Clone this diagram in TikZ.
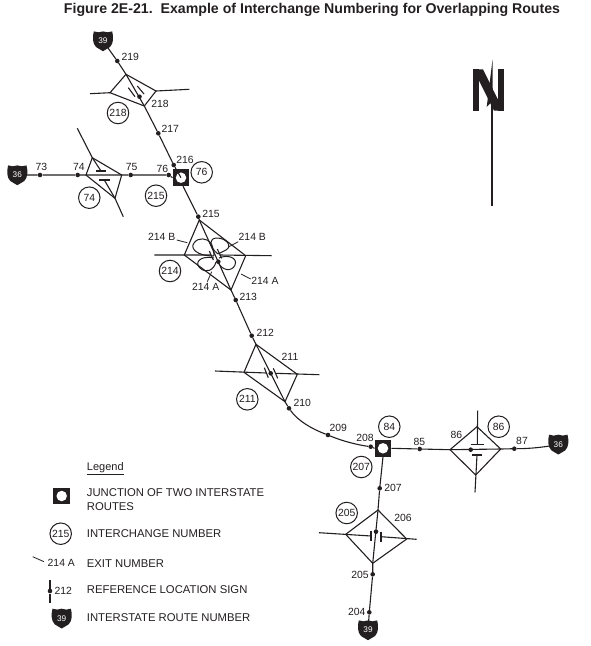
\documentclass[tikz,border=0pt]{standalone}
\usepackage{fontspec}
\setmainfont{Liberation Sans}
\definecolor{ink}{HTML}{231F20}
\tikzset{
  road/.style={draw=ink,line width=1.1pt,line join=miter},
  dotn/.style={circle,fill=ink,inner sep=0pt,minimum size=4.6pt},
  lbl/.style={inner sep=0pt,text=ink,font=\fontsize{10.4}{12}\selectfont},
  legt/.style={inner sep=0pt,text=ink,anchor=west,font=\fontsize{11.3}{14}\selectfont},
  numc/.style={circle,draw=ink,line width=1pt,fill=white,minimum size=21.5pt,inner sep=0pt,text=ink,font=\fontsize{10.4}{12}\selectfont},
  junc/.style={rectangle,fill=ink,minimum size=16.6pt,inner sep=0pt},
  junh/.style={circle,fill=white,minimum size=10.5pt,inner sep=0pt},
  shtxt/.style={inner sep=0pt,text=white,font=\fontsize{8.2}{10}\selectfont},
  thin road/.style={draw=ink,line width=0.8pt},
}
\newcommand{\shieldmark}[3]{%
  \fill[ink,shift={(#1)}] (-9.2,-9.6) .. controls (-6,-8.4) and (-3,-8.4) .. (0,-9.6)
    .. controls (3,-8.4) and (6,-8.4) .. (9.2,-9.6)
    .. controls (10.6,-4) and (10.6,2.5) .. (7,6)
    .. controls (4.5,8) and (2,8.6) .. (0,10.2)
    .. controls (-2,8.6) and (-4.5,8) .. (-7,6)
    .. controls (-10.6,2.5) and (-10.6,-4) .. (-9.2,-9.6) -- cycle;
  \node[shtxt] (#2) at (#1) {#3};}
\begin{document}
\begin{tikzpicture}[x=1pt,y=-1pt]
\useasboundingbox (0,0) rectangle (590,646);
\node[inner sep=0pt,text=ink,font=\bfseries\fontsize{14.15}{16}\selectfont] (title) at (312,9.5) {Figure 2E-21.\ \ Example of Interchange Numbering for Overlapping Routes};

% coordinates ------------------------------------------------
\foreach \n/\p in {
 t218/{126,74.3},r218/{156,91},b218/{144.3,106},l218/{110,92.7},wr218/{90,93.7},er218/{189.3,89.3},
 t74/{92.3,157.7},r74/{121.7,175},b74/{115,198.3},l74/{86,175},nr74/{77.3,128.3},sr74/{123.3,216.7},s74a/{101,171},s74b/{104.3,180},
 t214/{199.3,220},r214/{245.7,255.7},b214/{231,290},l214/{184.3,255},wr214/{154.3,255},er214/{271.7,255.7},s214a/{211,255},s214b/{219.5,255},
 t211/{256,344.3},r211/{297.3,374.3},b211/{285,401.7},l211/{244,372.3},wr211/{215,371},er211/{319.3,374.7},s211a/{266.3,373},s211b/{275.5,373.3},
 t86/{477,426.7},r86/{500.7,449},b86/{475.7,475},l86/{450,449.7},nr86/{477.7,410.7},sr86/{475,492.3},s86a/{477.3,444.7},s86b/{477,455},
 t206/{378,510},r206/{406.7,539},b206/{372.7,563.3},l206/{345.7,534.3},wr206/{319,532.7},er206/{416.7,539.3},s206a/{371,536},s206b/{381,536.7}}
 {\coordinate (\n) at (\p);}

% dots --------------------------------------------------------
\foreach \n/\p in {d219/{117.3,61},d218/{139.5,96.7},d217/{158.3,133.3},d216/{173.7,165},
 d73/{40,175},d74/{77.7,175},d75/{130.7,175},d76/{168.7,175},d215/{198.3,216.7},d214/{218.3,261.7},
 d213/{235.7,300},d212/{251.7,335.7},d211/{270.7,373.3},d210/{289,408.3},d209/{328,435},d208/{370.7,446.7},
 d85/{419.7,449},d86/{470.7,449.7},d87/{514.3,448.7},d207/{379.7,488.3},d206/{376,531.7},d205/{372.7,574.3},d204/{369.3,612.3},dleg/{50,591}}
 {\node[dotn] (\n) at (\p) {};}

% shields and junctions ---------------------------------------
\shieldmark{103,41}{s39n}{39}
\shieldmark{17.3,175}{s36w}{36}
\shieldmark{558.3,444.3}{s36e}{36}
\shieldmark{368,630}{s39s}{39}
\shieldmark{61.7,618.3}{s39l}{39}
\node[junc] (j1) at (181,177.7) {};
\node[junh] at (j1) {};
\node[junc] (j2) at (383,448.3) {};
\node[junh] at (j2) {};
\node[junc] (j3) at (61.7,496) {};
\node[junh] at (j3) {};

% routes ------------------------------------------------------
\begin{scope}[on background layer/.style={}]
\draw[road] (s39n) -- (d219) -- (t218) -- (b218) -- (d217) -- (d216) -- (j1.center);
\draw[road] (j1.south) ++(2,0) -- (d215) -- (t214) -- (b214) -- (d213) -- (d212) -- (t211) -- (b211) -- (d210);
\draw[road] (d210) .. controls (298,421) and (312,429) .. (d209) .. controls (342,441) and (358,445) .. (d208) -- (j2.west);
\draw[road] (s36w) -- (d73) -- (d74) -- (d75) -- (d76) -- (j1.west);
\draw[road] (j2.east) -- (d85) -- (l86) -- (r86) -- (d87) .. controls (530,448.7) and (545,447) .. (s36e);
\draw[road] (j2.south) -- (d207) -- (t206) -- (b206) -- (d205) -- (d204) -- (s39s);
\end{scope}

% interchange 218
\draw[road] (t218) -- (r218) -- (b218) -- (l218) -- cycle;
\draw[road] (wr218) -- (l218) (r218) -- (er218);
\draw[road] (128.3,87.7) -- (135,96.7) (137.3,86) -- (144,94);
% interchange 74
\draw[road] (l74) -- (t74) -- (r74) -- (b74) -- cycle;
\draw[road] (nr74) -- (t74) -- (s74a) (s74b) -- (b74) -- (sr74);
\draw[road] (96,171) -- (106,171) (99.3,180) -- (110,180);
% interchange 214
\draw[road] (t214) -- (r214) -- (b214) -- (l214) -- cycle;
\draw[road] (wr214) -- (s214a) (s214b) -- (er214);
\draw[road] (209.3,251) -- (213.3,260) (217.3,249) -- (221.7,258.3);
\draw[road,line width=1pt] (214,256) .. controls (196,256) and (190,248) .. (194,243) .. controls (198,237) and (207,238) .. (211,243) .. controls (213,247) and (214,252) .. (214,256);
\draw[road,line width=1pt] (218,254) .. controls (208,246) and (209,238) .. (217,238) .. controls (226,238) and (233,246) .. (226,250) .. controls (222,252) and (220,253) .. (218,254);
\draw[road,line width=1pt] (214,258) .. controls (200,255) and (194,263) .. (200,268) .. controls (206,274) and (214,270) .. (216,262);
\draw[road,line width=1pt] (219,258) .. controls (228,254) and (238,258) .. (235,265) .. controls (232,272) and (222,271) .. (218,262);
% interchange 211
\draw[road] (t211) -- (r211) -- (b211) -- (l211) -- cycle;
\draw[road] (wr211) -- (s211a) (s211b) -- (er211);
\draw[road] (264.3,367.7) -- (268.3,377.7) (273.3,368.3) -- (277.7,378.3);
% interchange 86
\draw[road] (t86) -- (r86) -- (b86) -- (l86) -- cycle;
\draw[road] (nr86) -- (s86a) (s86b) -- (sr86);
\draw[road] (470.7,444.7) -- (484,444.7) (472.3,455) -- (482.3,455);
% interchange 206
\draw[road] (t206) -- (r206) -- (b206) -- (l206) -- cycle;
\draw[road] (wr206) -- (s206a) (s206b) -- (er206);
\draw[road] (371,531) -- (371,541) (381,531.7) -- (381,541.7);

% exit leaders
\node[lbl] (e1) at (161.7,236.7) {214 B};
\node[lbl] (e2) at (252.3,237.3) {214 B};
\node[lbl] (e3) at (265,281) {214 A};
\node[lbl] (e4) at (205.7,287.3) {214 A};
\coordinate (e1t) at (187.3,242.7);
\coordinate (e2t) at (229,246.7);
\coordinate (e3t) at (241,274);
\coordinate (e4t) at (211.7,271.7);
\draw[thin road] (176.7,240) -- (e1t);
\draw[thin road] (238.3,241.7) -- (e2t);
\draw[thin road] (250.7,279) -- (e3t);
\draw[thin road] (207.3,281.7) -- (e4t);

% reference labels
\foreach \n/\p/\t in {a219/{130.3,56.7}/219,a218/{160,104}/218,a217/{170.3,129}/217,a216/{185,160.3}/216,
 a73/{41.3,166.7}/73,a74/{79,166.7}/74,a75/{131.7,166.7}/75,a76/{162.3,169}/76,a215/{211,214.3}/215,
 a213/{248.3,297.3}/213,a212/{265.3,333.3}/212,a211/{290,356.7}/211,a210/{302.3,403.3}/210,
 a209/{338.3,428.3}/209,a208/{365,437.7}/208,a85/{419.3,441.7}/85,a86/{456.3,434.7}/86,a87/{522,441}/87,
 a207/{393,488.3}/207,a206/{403,518.3}/206,a205/{360,575}/205,a204/{356.7,612}/204,
 al2/{61.3,563.3}/214 A,al3/{63.3,590.7}/212}
 {\node[lbl] (\n) at (\p) {\t};}

% circled numbers
\foreach \n/\p/\t in {c218/{118,113}/218,c74/{89.3,197.7}/74,c215/{156,195.7}/215,c76/{201.7,172.3}/76,
 c214/{170,271}/214,c211/{247.3,399.3}/211,c84/{389.3,426.7}/84,c86/{498.7,426.7}/86,c207/{361.3,467}/207,c205/{346.7,513}/205,cleg/{60.7,533.7}/215}
 {\node[numc] (\n) at (\p) {\t};}

% north arrow
\fill[ink] (473.3,69.3) -- (478.5,69.3) -- (478.5,110.7) -- (473.3,110.7) -- cycle;
\fill[ink] (498.3,69.3) -- (503.5,69.3) -- (503.5,110.7) -- (498.3,110.7) -- cycle;
\fill[ink] (473.3,69.3) -- (483,69.3) -- (503.5,110.7) -- (494,110.7) -- cycle;
\fill[white] (493,58) -- (498,90) -- (493,90) -- cycle;
\fill[ink] (492.5,60) -- (486.7,107) -- (492,101.5) -- (492.8,100) -- cycle;
\coordinate (ntop) at (492,100);
\coordinate (nbot) at (492,205.7);
\draw[ink,line width=1.1pt] (ntop) -- (nbot);

% legend
\node[lbl,font=\fontsize{11}{13}\selectfont] (legh) at (105.3,467.5) {Legend};
\coordinate (lu1) at (86.7,474.3);
\coordinate (lu2) at (124,474.3);
\draw[ink,line width=0.6pt] (lu1) -- (lu2);
\node[legt,align=left] (l1) at (86.7,499.7) {JUNCTION OF TWO INTERSTATE\\ROUTES};
\node[legt] (l2) at (86.7,534) {INTERCHANGE NUMBER};
\node[legt] (l3) at (86.7,564) {EXIT NUMBER};
\node[legt] (l4) at (86.7,590) {REFERENCE LOCATION SIGN};
\node[legt] (l5) at (86.7,617.7) {INTERSTATE ROUTE NUMBER};
\coordinate (lx1) at (32.7,556.7);
\coordinate (lx2) at (44,561.7);
\draw[thin road] (lx1) -- (lx2);
\coordinate (lv1) at (50,580);
\coordinate (lv2) at (50,602.7);
\draw[road] (lv1) -- (dleg) -- (lv2);
\end{tikzpicture}
\end{document}
